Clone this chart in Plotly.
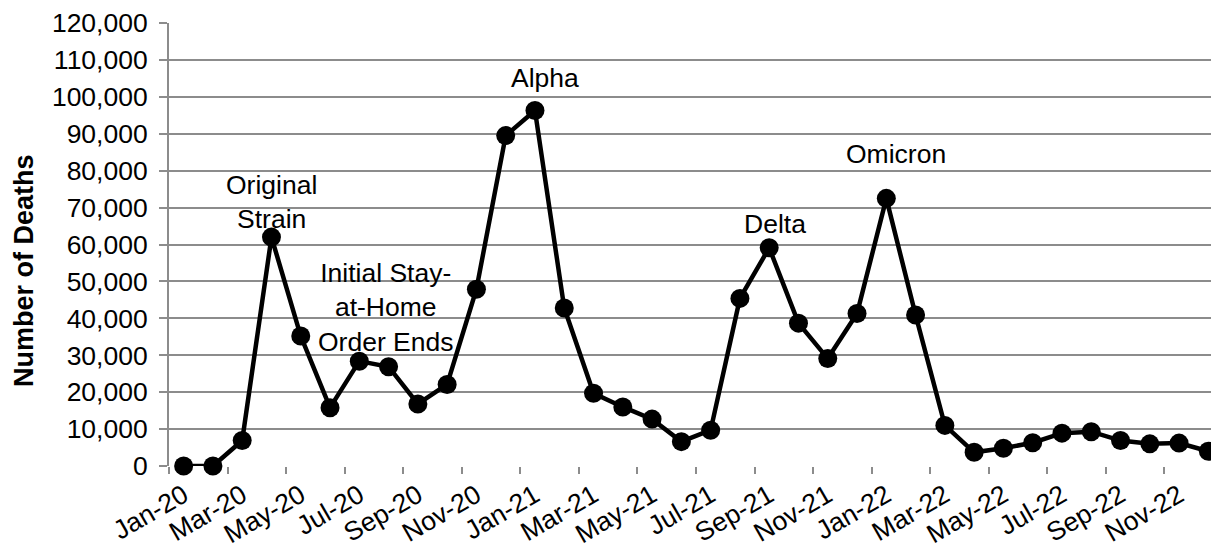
import plotly.graph_objects as go

months = ["Jan-20","Feb-20","Mar-20","Apr-20","May-20","Jun-20","Jul-20","Aug-20","Sep-20","Oct-20","Nov-20","Dec-20",
          "Jan-21","Feb-21","Mar-21","Apr-21","May-21","Jun-21","Jul-21","Aug-21","Sep-21","Oct-21","Nov-21","Dec-21",
          "Jan-22","Feb-22","Mar-22","Apr-22","May-22","Jun-22","Jul-22","Aug-22","Sep-22","Oct-22","Nov-22","Dec-22"]
deaths = [0, 0, 6900, 62000, 35200, 15800, 28400, 26900, 16800, 22100, 47900, 89500,
          96300, 42800, 19700, 16000, 12700, 6600, 9700, 45400, 59100, 38700, 29100, 41300,
          72500, 40900, 11000, 3700, 4800, 6300, 8900, 9300, 6900, 6000, 6200, 4000]
y_ticks = list(range(0, 120001, 10000))

# annotation texts with (x index, y value) anchors
notes = [
    ("Original<br>Strain", 3.0, 71500),
    ("Initial Stay-<br>at-Home<br>Order Ends", 6.9, 43000),
    ("Alpha", 12.34, 105000),
    ("Delta", 20.2, 65500),
    ("Omicron", 24.32, 84500),
]

FONT = "Arial, Liberation Sans, sans-serif"
GRID = "#8c8c8c"
FS = 26.5

idx = list(range(len(months)))
label_idx = idx[::2]

fig = go.Figure()
fig.add_trace(go.Scatter(
    x=idx, y=deaths, mode="lines+markers",
    line=dict(color="black", width=4.5),
    marker=dict(color="black", size=19),
    showlegend=False, cliponaxis=False,
))
# invisible trace for boundary tick marks axis
fig.add_trace(go.Scatter(x=[-0.5, 35.5], y=[0, 0], xaxis="x2", mode="none", showlegend=False, hoverinfo="skip"))

fig.update_layout(
    width=1219, height=549,
    margin=dict(l=161, r=4, t=15, b=91),
    plot_bgcolor="white", paper_bgcolor="white",
    font=dict(family=FONT, size=FS, color="black"),
    xaxis=dict(
        range=[-0.5, 35.5], automargin=False, ticklabeloverflow="allow",
        tickmode="array", tickvals=label_idx, ticktext=[months[i] for i in label_idx],
        tickangle=-30, ticks="", ticklabelstandoff=8, showgrid=False, zeroline=False,
        showline=False, tickfont=dict(size=FS, color="black"),
    ),
    xaxis2=dict(
        overlaying="x", range=[-0.5, 35.5], side="bottom", automargin=False,
        tickmode="array", tickvals=[i - 0.5 for i in label_idx] + [35.5],
        showticklabels=False, ticks="outside", ticklen=7, tickwidth=2, tickcolor=GRID,
        showgrid=False, zeroline=False, showline=False,
    ),
    yaxis=dict(
        range=[0, 120000], tickmode="array", tickvals=y_ticks, automargin=False,
        ticklabeloverflow="allow", ticklabelstandoff=6,
        tickformat=",", showgrid=True, gridcolor=GRID, gridwidth=2,
        zeroline=False, showline=True, linecolor=GRID, linewidth=2,
        ticks="outside", ticklen=8, tickwidth=2, tickcolor=GRID,
        tickfont=dict(size=FS, color="black"),
    ),
)

fig.add_annotation(
    text="<b>Number of Deaths</b>", textangle=-90,
    xref="paper", yref="paper", x=(24 - 169) / 1054, y=0.44, xanchor="center", yanchor="middle",
    showarrow=False, font=dict(size=27, color="black"),
)
for text, x, y in notes:
    fig.add_annotation(text=text, x=x, y=y, xref="x", yref="y", showarrow=False,
                       xanchor="center", yanchor="middle", align="center",
                       font=dict(size=FS, color="black"))

fig.write_html("out.html")
